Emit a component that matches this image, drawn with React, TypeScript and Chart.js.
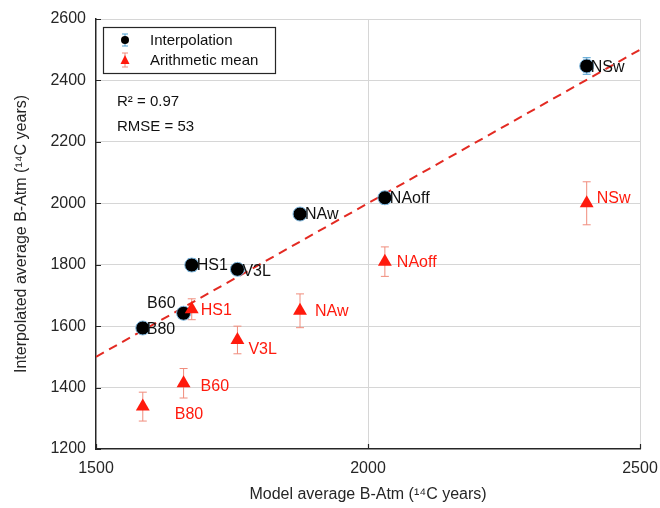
import React, { useEffect, useRef } from "react";
import { Chart, registerables } from "chart.js";

Chart.register(...registerables);

// ---- data ----
const sites = ["B80", "B60", "HS1", "V3L", "NAw", "NAoff", "NSw"];
const modelAvg = [1586, 1661, 1676, 1760, 1875, 2031, 2402];
const interpAvg = [1594, 1642, 1799, 1785, 1965, 2018, 2447];
const interpErr = [10, 10, 20, 14, 12, 20, 27];
const meanAvg = [1338, 1414, 1655, 1555, 1650, 1810, 2000];
const meanErr = [47, 48, 34, 45, 55, 48, 70];
const oneToOneX = [1500, 2500];
const xTicks = [1500, 2000, 2500];
const yTicks = [1200, 1400, 1600, 1800, 2000, 2200, 2400, 2600];
const statsText = ["R\u00B2 = 0.97", "RMSE = 53"];

// label placements (pixel offsets from marker)
const blackLabelOffset: Record<string, [number, number, string]> = {
  B80: [4, 2, "left"], B60: [-8, -10, "right"], HS1: [5, 1, "left"], V3L: [5, 2, "left"],
  NAw: [5, 1, "left"], NAoff: [5, 1, "left"], NSw: [4, 2, "left"],
};
const redLabelOffset: Record<string, [number, number]> = {
  B80: [32, 8], B60: [17, 3], HS1: [9, 1], V3L: [11, 10], NAw: [15, 1], NAoff: [12, 1], NSw: [10, -5],
};

const FONT = "'Liberation Sans', Arial, Helvetica, sans-serif";
const RED = "#ff1a0d";
const ERR_RED = "#f08c7c";
const ERR_BLUE = "#4f9fd0";

const overlay = {
  id: "overlay",
  beforeDatasetsDraw(chart: any) {
    const { ctx, scales } = chart;
    const xs = scales.x, ys = scales.y;
    ctx.save();
    ctx.lineWidth = 1;
    const drawErr = (x: number, y: number, e: number, color: string, cap: number) => {
      const px = xs.getPixelForValue(x);
      const y1 = ys.getPixelForValue(y - e);
      const y2 = ys.getPixelForValue(y + e);
      ctx.strokeStyle = color;
      ctx.beginPath();
      ctx.moveTo(px, y1); ctx.lineTo(px, y2);
      ctx.moveTo(px - cap, y1); ctx.lineTo(px + cap, y1);
      ctx.moveTo(px - cap, y2); ctx.lineTo(px + cap, y2);
      ctx.stroke();
    };
    sites.forEach((_, i) => {
      drawErr(modelAvg[i], meanAvg[i], meanErr[i], ERR_RED, 4);
      drawErr(modelAvg[i], interpAvg[i], interpErr[i], ERR_BLUE, 4);
    });
    ctx.restore();
  },
  afterDatasetsDraw(chart: any) {
    const { ctx, scales, chartArea } = chart;
    const xs = scales.x, ys = scales.y;
    ctx.save();
    // inward ticks
    ctx.strokeStyle = "#262626";
    ctx.lineWidth = 1.2;
    ctx.beginPath();
    yTicks.forEach((v) => {
      const py = Math.round(ys.getPixelForValue(v)) + 0.5;
      ctx.moveTo(chartArea.left, py); ctx.lineTo(chartArea.left + 5, py);
    });
    xTicks.forEach((v) => {
      const px = Math.round(xs.getPixelForValue(v)) + 0.5;
      ctx.moveTo(px, chartArea.bottom); ctx.lineTo(px, chartArea.bottom - 5);
    });
    ctx.stroke();

    // labels
    ctx.font = `16px ${FONT}`;
    ctx.textBaseline = "middle";
    sites.forEach((s, i) => {
      const px = xs.getPixelForValue(modelAvg[i]);
      const py = ys.getPixelForValue(interpAvg[i]);
      const [dx, dy, al] = blackLabelOffset[s];
      ctx.fillStyle = "#111";
      ctx.textAlign = al as CanvasTextAlign;
      ctx.fillText(s, px + dx, py + dy);
      const qy = ys.getPixelForValue(meanAvg[i]);
      const [rx, ry] = redLabelOffset[s];
      ctx.fillStyle = RED;
      ctx.textAlign = "left";
      ctx.fillText(s, px + rx, qy + ry);
    });

    // legend box
    const lx = 103, ly = 27, lw = 172, lh = 46;
    ctx.fillStyle = "#fff";
    ctx.fillRect(lx, ly, lw, lh);
    ctx.strokeStyle = "#262626";
    ctx.lineWidth = 1.2;
    ctx.strokeRect(lx + 0.5, ly + 0.5, lw, lh);
    const ix = 125;
    ctx.strokeStyle = ERR_BLUE;
    ctx.lineWidth = 1;
    ctx.beginPath();
    ctx.moveTo(ix, 34); ctx.lineTo(ix, 46);
    ctx.moveTo(ix - 3, 34); ctx.lineTo(ix + 3, 34);
    ctx.moveTo(ix - 3, 46); ctx.lineTo(ix + 3, 46);
    ctx.stroke();
    ctx.fillStyle = "#000";
    ctx.beginPath(); ctx.arc(ix, 40, 4, 0, Math.PI * 2); ctx.fill();
    ctx.strokeStyle = ERR_RED;
    ctx.beginPath();
    ctx.moveTo(ix, 53); ctx.lineTo(ix, 67);
    ctx.moveTo(ix - 3, 53); ctx.lineTo(ix + 3, 53);
    ctx.moveTo(ix - 3, 67); ctx.lineTo(ix + 3, 67);
    ctx.stroke();
    ctx.fillStyle = RED;
    ctx.beginPath();
    ctx.moveTo(ix, 55); ctx.lineTo(ix + 4.5, 64); ctx.lineTo(ix - 4.5, 64); ctx.closePath(); ctx.fill();
    ctx.fillStyle = "#111";
    ctx.textAlign = "left";
    ctx.font = `15px ${FONT}`;
    ctx.fillText("Interpolation", 150, 41);
    ctx.fillText("Arithmetic mean", 150, 61);

    // stats
    ctx.font = `15px ${FONT}`;
    ctx.fillText(statsText[0], 117, 102);
    ctx.fillText(statsText[1], 117, 127);
    ctx.restore();
  },
};

export default function App() {
  const ref = useRef<HTMLCanvasElement>(null);
  useEffect(() => {
    document.body.style.margin = "0";
    const chart = new Chart(ref.current!, {
      type: "scatter",
      data: {
        datasets: [
          {
            type: "line",
            label: "1:1",
            data: oneToOneX.map((v) => ({ x: v, y: v })),
            borderColor: "#e32a22",
            borderWidth: 2,
            borderDash: [9, 6],
            pointRadius: 0,
            order: 3,
          } as any,
          {
            label: "Interpolation",
            data: sites.map((_, i) => ({ x: modelAvg[i], y: interpAvg[i] })),
            backgroundColor: "#000",
            borderColor: "#7fb8e0",
            borderWidth: 1,
            pointRadius: 7,
            order: 2,
          },
          {
            label: "Arithmetic mean",
            data: sites.map((_, i) => ({ x: modelAvg[i], y: meanAvg[i] })),
            backgroundColor: RED,
            borderColor: RED,
            borderWidth: 0,
            pointStyle: "triangle",
            pointRadius: 8,
            order: 1,
          },
        ],
      },
      options: {
        responsive: false,
        animation: false,
        layout: { padding: { top: 19, right: 20, left: 0, bottom: 0 } },
        plugins: { legend: { display: false }, tooltip: { enabled: false } },
        scales: {
          x: {
            type: "linear",
            min: 1500,
            max: 2500,
            afterFit: (s: any) => { s.height = 59; s.paddingLeft = 0; s.paddingRight = 0; },
            afterBuildTicks: (s: any) => { s.ticks = xTicks.map((v) => ({ value: v })); },
            ticks: {
              color: "#262626", font: { family: FONT, size: 16 }, padding: 10, maxRotation: 0,
              callback: (v: any) => String(v),
            },
            grid: {
              drawTicks: false,
              color: (c: any) => (c.tick && c.tick.value === 1500 ? "rgba(0,0,0,0)" : "#d6d6d6"),
              lineWidth: 1,
            },
            border: { display: true, color: "#262626", width: 1.5 },
            title: {
              display: true,
              text: "Model average B-Atm (\u00B9\u2074C years)",
              color: "#262626",
              font: { family: FONT, size: 16 },
              padding: { top: 0, bottom: 4 },
            },
          },
          y: {
            type: "linear",
            min: 1200,
            max: 2600,
            afterFit: (s: any) => { s.width = 96; s.paddingTop = 0; s.paddingBottom = 0; },
            afterBuildTicks: (s: any) => { s.ticks = yTicks.map((v) => ({ value: v })); },
            ticks: {
              color: "#262626", font: { family: FONT, size: 16 }, padding: 10,
              callback: (v: any) => String(v),
            },
            grid: {
              drawTicks: false,
              color: (c: any) => (c.tick && c.tick.value === 1200 ? "rgba(0,0,0,0)" : "#d6d6d6"),
              lineWidth: 1,
            },
            border: { display: true, color: "#262626", width: 1.5 },
            title: {
              display: true,
              text: "Interpolated average B-Atm (\u00B9\u2074C years)",
              color: "#262626",
              font: { family: FONT, size: 16 },
              padding: { top: 12, bottom: 0 },
            },
          },
        },
      },
      plugins: [overlay],
    });
    return () => chart.destroy();
  }, []);
  return <canvas ref={ref} width={660} height={508} />;
}
